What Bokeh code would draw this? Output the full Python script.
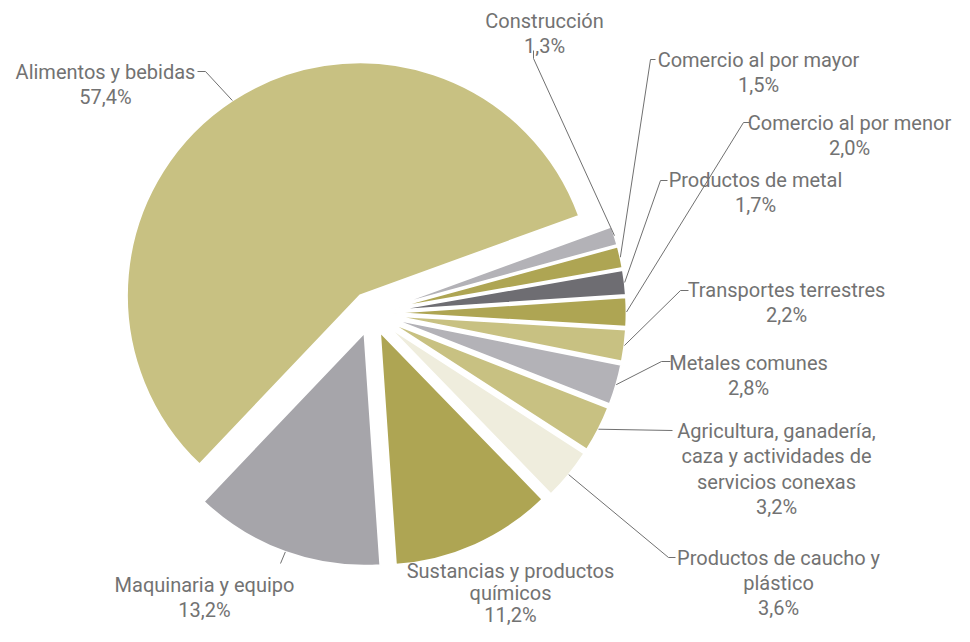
import math
from bokeh.plotting import figure
from bokeh.models import Range1d, ColumnDataSource
from bokeh.core.properties import value
from bokeh.embed import file_html
from bokeh.resources import INLINE

# ---- data -------------------------------------------------------------
categories = [
    "Alimentos y bebidas",
    "Maquinaria y equipo",
    "Sustancias y productos\nquímicos",
    "Productos de caucho y\nplástico",
    "Agricultura, ganadería,\ncaza y actividades de\nservicios conexas",
    "Metales comunes",
    "Transportes terrestres",
    "Comercio al por menor",
    "Productos de metal",
    "Comercio al por mayor",
    "Construcción",
]
shares = [57.4, 13.2, 11.2, 3.6, 3.2, 2.8, 2.2, 2.0, 1.7, 1.5, 1.3]

# ---- styles / layout ----------------------------------------------------
TAN, OLIVE, GRAY, LGRAY, DGRAY, CREAM = "#c8c182", "#aea553", "#a6a5aa", "#b3b2b7", "#6e6d72", "#efeddd"
colors = [TAN, GRAY, OLIVE, CREAM, TAN, LGRAY, TAN, OLIVE, DGRAY, OLIVE, LGRAY]
explode = [21, 21, 21, 22, 22, 22, 22, 22, 22, 22, 22]
START_DEG = 20.0
CENTER = (371, 320.5)      # page pixels
RADIUS = 233
TEXT_COLOR = "#727272"
FONT = "Roboto"
FONT_SIZE = 20
LINE_H = 25.5

# label anchor: (center x, baseline of first line) in page pixels
label_pos = [
    (105, 79), (204, 592), (510, 578), (778, 565), (776, 438), (748, 370),
    (786, 297), (849, 130), (755, 187), (758, 67), (544, 28),
]
label_line_h = [LINE_H, LINE_H, 22.0, 25.0, LINE_H, LINE_H, LINE_H, LINE_H, LINE_H, LINE_H, LINE_H]
# leader line points after the slice point (page pixels)
leader_pts = [
    [(205, 79), (197, 79)],
    [(280, 571)],
    None,
    [(668, 565), (675, 565)],
    [(672, 438)],
    [(661, 369), (670, 369)],
    [(680, 298), (688, 298)],
    [(743, 130), (750, 130)],
    [(660, 188), (667, 188)],
    [(650, 67), (655, 67)],
    [(533, 66), (533, 58)],
]

W, H = 954, 626
TOP = 8
PAGE_H = 642


def fy(y):
    return PAGE_H - y


p = figure(width=W, height=H, output_backend="svg", toolbar_location=None,
           x_range=Range1d(0, W), y_range=Range1d(PAGE_H - TOP - H, PAGE_H - TOP),
           min_border=0, outline_line_color=None,
           x_axis_location=None, y_axis_location=None)
p.grid.visible = False
p.background_fill_color = "white"
p.border_fill_color = "white"

total = sum(shares)
cx, cy = CENTER[0], fy(CENTER[1])
xs, ys, starts, ends, mids = [], [], [], [], []
cum = 0.0
for v, d in zip(shares, explode):
    a0 = math.radians(START_DEG + 360.0 * cum / total)
    a1 = math.radians(START_DEG + 360.0 * (cum + v) / total)
    cum += v
    m = (a0 + a1) / 2
    xs.append(cx + d * math.cos(m))
    ys.append(cy + d * math.sin(m))
    starts.append(a0)
    ends.append(a1)
    mids.append(m)

src = ColumnDataSource(dict(x=xs, y=ys, s=starts, e=ends, c=colors))
p.wedge(x="x", y="y", radius=RADIUS, radius_units="screen", start_angle="s", end_angle="e",
        direction="anticlock", fill_color="c", line_color="white", line_width=1.8, source=src)

# leader lines
lx, ly = [], []
for i, pts in enumerate(leader_pts):
    if not pts:
        continue
    x0 = xs[i] + RADIUS * math.cos(mids[i])
    y0 = ys[i] + RADIUS * math.sin(mids[i])
    lx.append([x0] + [q[0] for q in pts])
    ly.append([y0] + [fy(q[1]) for q in pts])
p.multi_line(lx, ly, line_color="#707070", line_width=1)

# labels
tx, ty, tt = [], [], []
for cat, v, (px, py), lh in zip(categories, shares, label_pos, label_line_h):
    lines = cat.split("\n") + [f"{v:.1f}%".replace(".", ",")]
    for k, ln in enumerate(lines):
        tx.append(px)
        ty.append(fy(py + k * lh))
        tt.append(ln)
p.text(tx, ty, text=tt, text_align="center", text_baseline="alphabetic",
       text_font=value(FONT), text_font_size=f"{FONT_SIZE}px", text_color=TEXT_COLOR)

open("out.html", "w").write(file_html(p, INLINE))
